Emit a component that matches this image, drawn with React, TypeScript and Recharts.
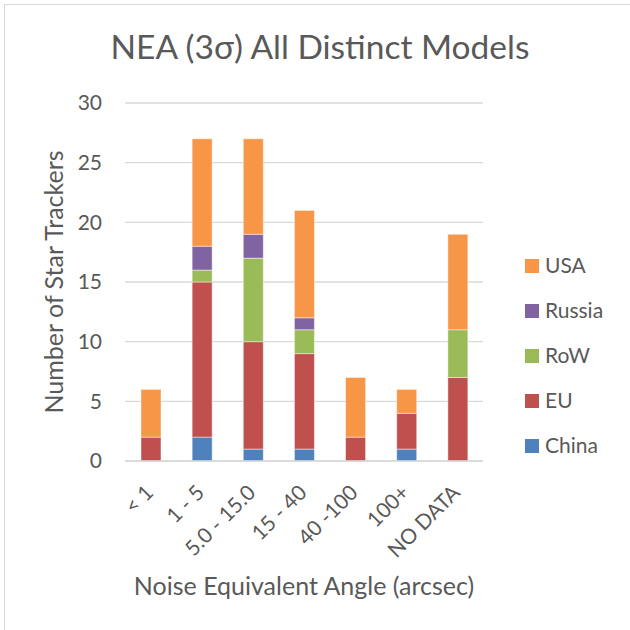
import React from 'react';
import { BarChart, Bar, XAxis, YAxis, CartesianGrid } from 'recharts';

const categories = ['< 1', '1 - 5', '5.0 - 15.0', '15 - 40', '40 -100', '100+', 'NO DATA'];
const china = [0, 2, 1, 1, 0, 1, 0];
const eu = [2, 13, 9, 8, 2, 3, 7];
const row = [0, 1, 7, 2, 0, 0, 4];
const russia = [0, 2, 2, 1, 0, 0, 0];
const usa = [4, 9, 8, 9, 5, 2, 8];
const yTicks = [0, 5, 10, 15, 20, 25, 30];
const seriesKeys = ['China', 'EU', 'RoW', 'Russia', 'USA'];
const seriesColors = ['#4F81BD', '#C0504D', '#9BBB59', '#8064A2', '#F79646'];
const seriesValues = [china, eu, row, russia, usa];

const data = categories.map((c, i) => {
  const o: Record<string, any> = { name: c };
  seriesKeys.forEach((k, j) => {
    o[k] = seriesValues[j][i];
  });
  return o;
});

const FONT = 'Lato, "Open Sans", sans-serif';
const TXT = '#595959';

const XTick = (props: any) => {
  const { x, payload } = props;
  return (
    <g transform={`translate(${x + 4},${494})`}>
      <text textAnchor="end" transform="rotate(-45)" fill={TXT} fontSize={21} fontFamily={FONT}>
        {payload.value}
      </text>
    </g>
  );
};

export default function App() {
  return (
    <div style={{ position: 'absolute', left: 0, top: 0, width: 630, height: 630, background: '#fff', overflow: 'hidden' }}>
      <div style={{ position: 'absolute', left: 4, top: 4, width: 660, height: 660, border: '1px solid #D9D9D9', boxSizing: 'border-box' }} />
      <div style={{ position: 'absolute', left: 0, top: 0 }}>
        <BarChart
          width={630}
          height={630}
          data={data}
          margin={{ top: 103, right: 147, bottom: 0, left: 0 }}
          barSize={20}
        >
          <CartesianGrid vertical={false} stroke="#D9D9D9" strokeWidth={1.3} />
          <XAxis
            dataKey="name"
            height={169}
            tickLine={false}
            tickSize={0}
            axisLine={{ stroke: '#D9D9D9', strokeWidth: 1.3 }}
            interval={0}
            tick={<XTick />}
          />
          <YAxis
            width={125}
            domain={[0, 30]}
            ticks={yTicks}
            axisLine={false}
            tickLine={false}
            tickSize={0}
            tickMargin={23}
            tick={{ fill: TXT, fontSize: 21, fontFamily: FONT }}
          />
          {seriesKeys.map((k, j) => (
            <Bar
              key={k}
              dataKey={k}
              stackId="a"
              fill={seriesColors[j]}
              stroke="#ffffff"
              strokeOpacity={0.45}
              strokeWidth={1}
              isAnimationActive={false}
            />
          ))}
        </BarChart>
      </div>
      <svg width={630} height={630} style={{ position: 'absolute', left: 0, top: 0, pointerEvents: 'none' }}>
        <text x={320} y={59} textAnchor="middle" fill={TXT} fontSize={33.5} fontFamily={FONT}>
          NEA (3σ) All Distinct Models
        </text>
        <text
          x={63}
          y={282}
          transform="rotate(-90, 63, 282)"
          textAnchor="middle"
          fill={TXT}
          fontSize={25}
          fontFamily={FONT}
        >
          Number of Star Trackers
        </text>
        <text x={304} y={595} textAnchor="middle" fill={TXT} fontSize={25} fontFamily={FONT}>
          Noise Equivalent Angle (arcsec)
        </text>
        {seriesKeys
          .map((k, j) => ({ k, c: seriesColors[j] }))
          .reverse()
          .map((s, i) => (
            <g key={s.k}>
              <rect x={525} y={259 + i * 45} width={14} height={14} fill={s.c} />
              <text x={545} y={273 + i * 45} fill={TXT} fontSize={21} fontFamily={FONT}>
                {s.k}
              </text>
            </g>
          ))}
      </svg>
    </div>
  );
}
